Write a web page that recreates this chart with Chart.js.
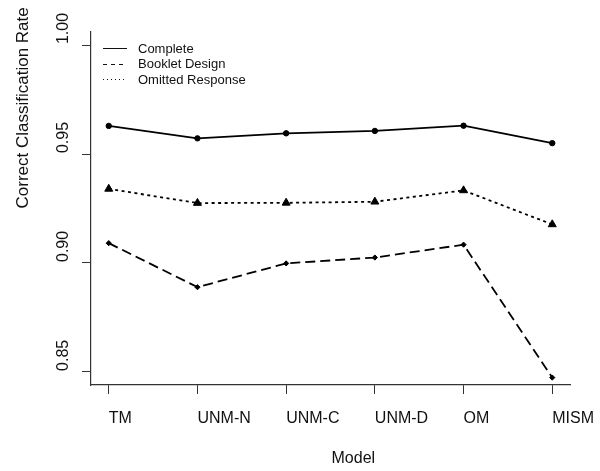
<!DOCTYPE html>
<html>
<head>
<meta charset="utf-8">
<script src="https://cdn.jsdelivr.net/npm/chart.js@4/dist/chart.umd.min.js"></script>
<style>
  html, body { margin: 0; padding: 0; background: #fff; }
  #wrap { width: 600px; height: 471px; }
</style>
</head>
<body>
<div id="wrap"><canvas id="grafico" width="600" height="471"></canvas></div>
<script>
// datos
const modelos = ["TM", "UNM-N", "UNM-C", "UNM-D", "OM", "MISM"];
const completo = [0.9629, 0.9572, 0.9595, 0.9606, 0.9630, 0.9550];
const cuadernillo = [0.9091, 0.8889, 0.8998, 0.9025, 0.9084, 0.8474];
const omitida = [0.9340, 0.9275, 0.9276, 0.9281, 0.9333, 0.9177];
const series = ["Complete", "Booklet Design", "Omitted Response"];
const yTicks = [0.85, 0.90, 0.95, 1.00];
const tituloX = "Model";
const tituloY = "Correct Classification Rate";

const FUENTE = '"Liberation Sans", Arial, sans-serif';
const TINTA = "#111";

function puntos(valores) {
  return valores.map((v, i) => ({ x: i + 1, y: v }));
}

// textos del estilo R (todos alineados a la izquierda)
const textos = {
  id: "textos",
  afterDraw(chart) {
    const ctx = chart.ctx;
    const xs = chart.scales.x;
    const ys = chart.scales.y;
    const area = chart.chartArea;
    ctx.save();
    ctx.fillStyle = TINTA;
    ctx.textAlign = "left";
    ctx.textBaseline = "alphabetic";

    // etiquetas eje x
    ctx.font = "16px " + FUENTE;
    modelos.forEach((m, i) => {
      ctx.fillText(m, xs.getPixelForValue(i + 1), 423);
    });

    // etiquetas eje y (rotadas)
    yTicks.forEach((t) => {
      ctx.save();
      ctx.translate(68, ys.getPixelForValue(t) - 1);
      ctx.rotate(-Math.PI / 2);
      ctx.fillText(t.toFixed(2), 0, 0);
      ctx.restore();
    });

    // titulos
    ctx.fillText(tituloX, (area.left + area.right) / 2 + 1, 463);
    ctx.save();
    ctx.font = "17px " + FUENTE;
    ctx.translate(28, (area.top + area.bottom) / 2);
    ctx.rotate(-Math.PI / 2);
    ctx.fillText(tituloY, 0, 0);
    ctx.restore();

    // leyenda
    const estilos = [[], [4, 4], [1, 3]];
    ctx.font = "13px " + FUENTE;
    series.forEach((s, i) => {
      const y = 49 + i * 15.5;
      ctx.save();
      ctx.strokeStyle = TINTA;
      ctx.lineWidth = 1;
      ctx.setLineDash(estilos[i]);
      ctx.beginPath();
      ctx.moveTo(103, Math.round(y) - 0.5);
      ctx.lineTo(127, Math.round(y) - 0.5);
      ctx.stroke();
      ctx.restore();
      ctx.textBaseline = "middle";
      ctx.fillText(s, 138, y);
    });
    ctx.restore();
  },
};

const ctx = document.getElementById("grafico").getContext("2d");
const chart = new Chart(ctx, {
  type: "line",
  data: {
    datasets: [
      {
        label: series[0],
        data: puntos(completo),
        borderColor: "#000",
        backgroundColor: "#000",
        borderWidth: 1.8,
        pointStyle: "circle",
        pointRadius: 2.7,
        pointBorderWidth: 1,
        tension: 0,
      },
      {
        label: series[1],
        data: puntos(cuadernillo),
        borderColor: "#000",
        backgroundColor: "#000",
        borderWidth: 1.8,
        borderDash: [10, 5],
        pointStyle: "rectRot",
        pointRadius: 2.6,
        pointBorderWidth: 1,
        tension: 0,
      },
      {
        label: series[2],
        data: puntos(omitida),
        borderColor: "#000",
        backgroundColor: "#000",
        borderWidth: 1.8,
        borderDash: [3, 3.5],
        pointStyle: "triangle",
        pointRadius: 4.6,
        pointBorderWidth: 1,
        tension: 0,
      },
    ],
  },
  options: {
    responsive: false,
    animation: false,
    events: [],
    layout: { padding: { left: 0, top: 32, right: 30, bottom: 0 } },
    plugins: { legend: { display: false }, tooltip: { enabled: false } },
    scales: {
      x: {
        type: "linear",
        min: 0.8,
        max: 6.2,
        afterBuildTicks: (s) => {
          s.ticks = modelos.map((_, i) => ({ value: i + 1 }));
        },
        afterFit: (s) => {
          s.height = 86;
        },
        ticks: { display: false },
        grid: {
          drawOnChartArea: false,
          drawTicks: true,
          tickLength: 9,
          tickColor: "#333",
          tickWidth: 1,
        },
        border: { display: true, color: "#333", width: 1.2 },
      },
      y: {
        type: "linear",
        min: 0.844,
        max: 1.006,
        afterBuildTicks: (s) => {
          s.ticks = yTicks.map((v) => ({ value: v }));
        },
        afterFit: (s) => {
          s.width = 91;
        },
        ticks: { display: false },
        grid: {
          drawOnChartArea: false,
          drawTicks: true,
          tickLength: 9,
          tickColor: "#333",
          tickWidth: 1,
        },
        border: { display: true, color: "#333", width: 1.2 },
      },
    },
  },
  plugins: [textos],
});
</script>
</body>
</html>
